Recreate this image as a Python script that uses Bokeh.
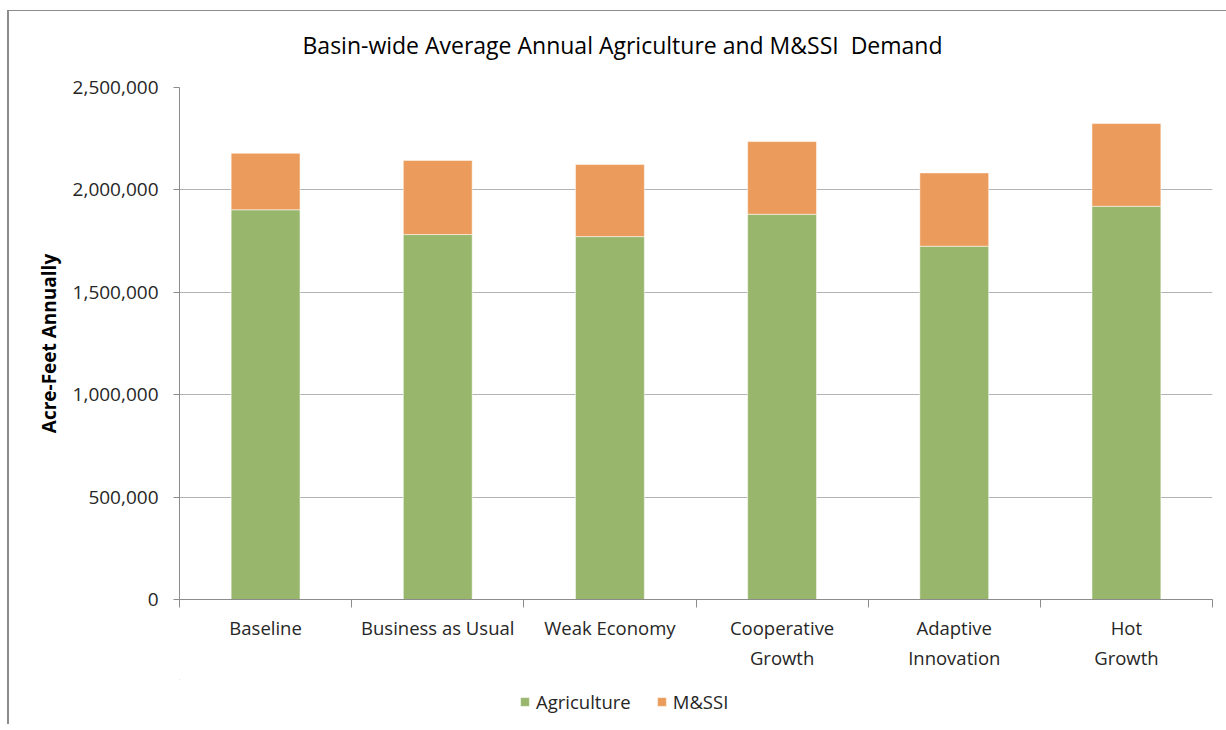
from bokeh.plotting import figure
from bokeh.layouts import column
from bokeh.models import (ColumnDataSource, FixedTicker, NumeralTickFormatter, Legend,
                          Label, Range1d)
from bokeh.embed import file_html
from bokeh.resources import INLINE

# ---- data ----
categories = ["Baseline", "Business as Usual", "Weak Economy",
              "Cooperative\nGrowth", "Adaptive\nInnovation", "Hot\nGrowth"]
agriculture = [1903000, 1782000, 1772000, 1881000, 1725000, 1920000]
mssi = [276000, 362000, 352000, 355000, 358000, 404000]
series_names = ["Agriculture", "M&SSI"]
y_ticks = [0, 500000, 1000000, 1500000, 2000000, 2500000]
chart_title = "Basin-wide Average Annual Agriculture and M&SSI\u00a0 Demand"

FONT = "Open Sans"
GREEN = "#98B76D"
ORANGE = "#EB9C5C"
COLORS = [GREEN, ORANGE]

xs = [i + 0.5 for i in range(len(categories))]
source = ColumnDataSource(dict(x=xs, ag=agriculture, ms=mssi))


def strip(height):
    f = figure(width=1217, height=height, output_backend="svg", toolbar_location=None,
               x_range=Range1d(100, 101), y_range=Range1d(-2, -1),
               min_border=0, min_border_left=0, min_border_right=0,
               min_border_top=0, min_border_bottom=0)
    f.axis.visible = False
    f.grid.visible = False
    f.outline_line_color = None
    f.background_fill_color = "white"
    f.border_fill_color = "white"
    return f


# ---- title strip ----
p0 = strip(64)
p0.add_layout(Label(x=443, y=31, x_units="screen", y_units="screen", text=chart_title,
                    text_font=FONT, text_font_size="23px", text_color="#000000",
                    text_align="center", text_baseline="middle"))

# ---- main chart ----
p = figure(frame_width=1033, frame_height=512, output_backend="svg", toolbar_location=None,
           x_range=Range1d(0, len(categories)), y_range=Range1d(0, 2500000),
           min_border_left=170, min_border_right=14, min_border_top=12,
           min_border_bottom=80, title=None)
p.outline_line_color = None
p.background_fill_color = "white"
p.border_fill_color = "white"

renderers = p.vbar_stack(["ag", "ms"], x="x", width=0.4, source=source,
                         color=COLORS, line_color="#FFFFFF", line_alpha=0.5)

# x axis: labels at category centers, ticks at category boundaries (minor ticks)
xa = p.xaxis[0]
xa.ticker = FixedTicker(ticks=xs, minor_ticks=list(range(len(categories) + 1)))
xa.major_label_overrides = {x: c for x, c in zip(xs, categories)}
xa.major_tick_line_color = None
xa.major_tick_out = 8
xa.major_tick_in = 0
xa.minor_tick_out = 8
xa.minor_tick_in = 0
xa.minor_tick_line_color = "#8c8c8c"
xa.axis_line_color = "#8c8c8c"
xa.major_label_standoff = 7
xa.major_label_text_font = FONT
xa.major_label_text_font_size = "18.5px"
xa.major_label_text_color = "#262626"

ya = p.yaxis[0]
ya.ticker = FixedTicker(ticks=y_ticks)
ya.formatter = NumeralTickFormatter(format="0,0")
ya.minor_tick_line_color = None
ya.major_tick_out = 6
ya.major_tick_in = 0
ya.major_tick_line_color = "#8c8c8c"
ya.axis_line_color = "#8c8c8c"
ya.major_label_standoff = 15
ya.major_label_text_font = FONT
ya.major_label_text_font_size = "19px"
ya.major_label_text_color = "#262626"
ya.axis_label = "Acre-Feet Annually"
ya.axis_label_text_font = FONT
ya.axis_label_text_font_style = "bold"
ya.axis_label_text_font_size = "19px"
ya.axis_label_text_color = "#000000"
ya.axis_label_standoff = 8

p.xgrid.grid_line_color = None
p.ygrid.grid_line_color = "#b3b3b3"
p.ygrid.grid_line_width = 1

# ---- legend strip (keys reuse the same data, kept outside the strip's view) ----
p2 = strip(45)
key_renderers = p2.vbar_stack(["ag", "ms"], x="x", width=0.4, source=source,
                              color=COLORS, line_color="#FFFFFF", line_alpha=0.5)
legend = Legend(items=[(n, [r]) for n, r in zip(series_names, key_renderers)],
                orientation="horizontal", location=(340, 10),
                glyph_width=11, glyph_height=11, label_standoff=6, spacing=25,
                padding=0, margin=0, border_line_color=None, background_fill_alpha=0,
                label_text_font=FONT, label_text_font_size="18.5px",
                label_text_color="#262626")
p2.add_layout(legend, "center")

layout = column(p0, p, p2, spacing=0,
                styles={"margin-left": "7px", "margin-top": "10px",
                        "border-left": "2px solid #8c8c8c",
                        "border-top": "1px solid #8c8c8c"})

open("out.html", "w").write(file_html(layout, INLINE))
